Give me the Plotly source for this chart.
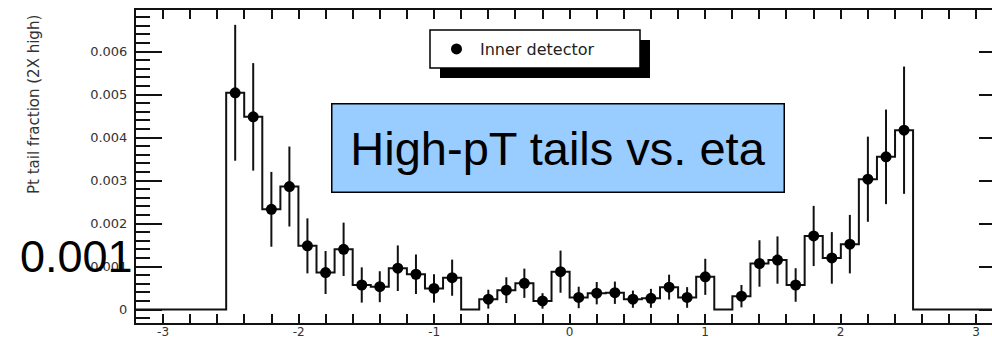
import plotly.graph_objects as go

# ---- data ----
eta = [-2.468, -2.335, -2.201, -2.068, -1.935, -1.801, -1.668, -1.534, -1.401, -1.268,
       -1.134, -1.001, -0.867, -0.734, -0.600, -0.467, -0.334, -0.200, -0.067, 0.067,
       0.200, 0.334, 0.467, 0.600, 0.734, 0.867, 1.001, 1.134, 1.268, 1.401,
       1.534, 1.668, 1.801, 1.935, 2.068, 2.201, 2.335, 2.468]
frac = [0.00504, 0.00448, 0.00233, 0.00286, 0.00148, 0.00086, 0.00140, 0.00057, 0.00053, 0.00096,
        0.00082, 0.00049, 0.00074, 0.0, 0.00024, 0.00045, 0.00061, 0.00020, 0.00088, 0.00028,
        0.00038, 0.00039, 0.00024, 0.00026, 0.00052, 0.00028, 0.00076, 0.0, 0.00031, 0.00107,
        0.00115, 0.00057, 0.00171, 0.00120, 0.00152, 0.00303, 0.00355, 0.00417]
err = [0.00158, 0.00125, 0.00087, 0.00093, 0.00064, 0.00050, 0.00062, 0.00041, 0.00036, 0.00053,
       0.00046, 0.00033, 0.00042, 0.0, 0.00022, 0.00030, 0.00034, 0.00018, 0.00049, 0.00025,
       0.00026, 0.00026, 0.00020, 0.00022, 0.00029, 0.00024, 0.00042, 0.0, 0.00026, 0.00054,
       0.00055, 0.00039, 0.00070, 0.00060, 0.00068, 0.00099, 0.00110, 0.00148]
x_ticks = [-3, -2, -1, 0, 1, 2, 3]
x_tick_text = ["-3", "-2", "-1", "0", "1", "2", "3"]
y_ticks = [0, 0.001, 0.002, 0.003, 0.004, 0.005, 0.006]
y_tick_text = ["0", "0.001", "0.002", "0.003", "0.004", "0.005", "0.006"]
legend_name = "Inner detector"
y_title = "Pt tail fraction (2X high)"
box_text = "High-pT tails vs. eta"
overlay_text = "0.001"

# ---- layout geometry ----
W, H = 992, 341
L, R, T, B = 136, 992, 10, 323
XR = [-3.2, 3.117]
YR = [-0.000314, 0.006965]
FONT = "Liberation Sans, Arial, Helvetica, sans-serif"
SMALL = "DejaVu Sans, sans-serif"


def px(x):
    return (x - L) / (R - L)


def py(y):
    return (B - y) / (B - T)


# step histogram outline built from the bin centres
n = len(eta)
edges = [eta[0] - (eta[1] - eta[0]) / 2]
for i in range(n - 1):
    edges.append((eta[i] + eta[i + 1]) / 2)
edges.append(eta[-1] + (eta[-1] - eta[-2]) / 2)
step_x = [XR[0]] + edges + [XR[1]]
step_y = [0] + frac + [0, 0]

mx = [e for e, v in zip(eta, frac) if v > 0]
my = [v for v in frac if v > 0]
me = [e for v, e in zip(frac, err) if v > 0]

fig = go.Figure()
fig.add_trace(go.Scatter(x=step_x, y=step_y, mode="lines", line=dict(shape="hv", color="#111111", width=2),
                         showlegend=False, hoverinfo="skip"))
fig.add_trace(go.Scatter(x=mx, y=my, mode="markers", name=legend_name,
                         marker=dict(color="black", size=11, symbol="circle"),
                         error_y=dict(type="data", array=me, visible=True, thickness=2, width=0, color="#111111")))
# invisible trace to activate the right-hand tick axis
fig.add_trace(go.Scatter(x=mx, y=my, yaxis="y2", mode="markers", marker=dict(opacity=0),
                         showlegend=False, hoverinfo="skip"))

fig.update_layout(
    width=W, height=H,
    margin=dict(l=L, r=W - R, t=T, b=H - B, pad=0, autoexpand=False),
    paper_bgcolor="white", plot_bgcolor="white",
    font=dict(family=SMALL, color="#333333", size=13),
    xaxis=dict(range=XR, showgrid=False, zeroline=False, showline=True, linecolor="#111111", linewidth=2,
               mirror="allticks", ticks="inside", ticklen=9, tickwidth=2, tickcolor="#111111",
               tickmode="array", tickvals=x_ticks, ticktext=x_tick_text, automargin=False,
               ticklabelstandoff=-3,
               tickfont=dict(size=12, color="#333333", family=SMALL),
               minor=dict(dtick=0.2, tick0=0, ticks="inside", ticklen=5, tickwidth=1.5, tickcolor="#111111")),
    yaxis=dict(range=YR, showgrid=False, zeroline=False, showline=True, linecolor="#111111", linewidth=2,
               mirror=False, ticks="inside", ticklen=26, tickwidth=2, tickcolor="#111111",
               tickmode="array", tickvals=y_ticks, ticktext=y_tick_text, ticklabelstandoff=4, automargin=False,
               tickfont=dict(size=13, color="#333333", family=SMALL),
               minor=dict(dtick=0.0002, tick0=0, ticks="inside", ticklen=14, tickwidth=1.5, tickcolor="#111111")),
    yaxis2=dict(range=YR, overlaying="y", side="right", showgrid=False, zeroline=False, showline=False,
                ticks="inside", ticklen=13, tickwidth=2, tickcolor="#111111", automargin=False,
                tickmode="array", tickvals=y_ticks, showticklabels=False),
    showlegend=True,
    legend=dict(x=px(433), y=py(49), xanchor="left", yanchor="middle", bgcolor="rgba(0,0,0,0)",
                borderwidth=0, font=dict(size=16, color="#222222", family=SMALL), itemwidth=37),
)

# legend frame with drop shadow
fig.add_shape(type="rect", xref="paper", yref="paper", x0=px(440), x1=px(650), y0=py(78), y1=py(40),
              fillcolor="black", line=dict(width=0), layer="above")
fig.add_shape(type="rect", xref="paper", yref="paper", x0=px(430), x1=px(640), y0=py(68), y1=py(30),
              fillcolor="white", line=dict(color="black", width=1.5), layer="above")

# blue text box
fig.add_annotation(xref="paper", yref="paper", x=px(557.5), y=py(147.5), xanchor="center", yanchor="middle",
                   text=box_text, showarrow=False, width=451, height=87, borderpad=0,
                   bgcolor="#99CCFF", bordercolor="black", borderwidth=1.5,
                   font=dict(family=FONT, size=47, color="black"))
# big overlay text
fig.add_annotation(xref="paper", yref="paper", x=px(76), y=py(256), xanchor="center", yanchor="middle",
                   text=overlay_text, showarrow=False, font=dict(family=FONT, size=45, color="black"))
# y-axis title
fig.add_annotation(xref="paper", yref="paper", x=px(34), y=py(105), xanchor="center", yanchor="middle",
                   text=y_title, showarrow=False, textangle=-90,
                   font=dict(family=SMALL, size=15, color="#333333"))

fig.write_html("out.html")
